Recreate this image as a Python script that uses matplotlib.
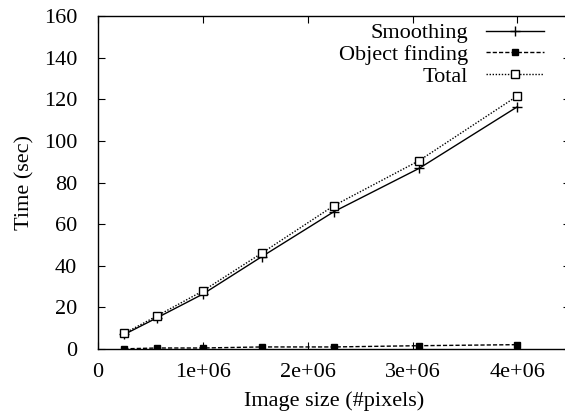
import matplotlib
matplotlib.use("Agg")
import matplotlib.pyplot as plt
from matplotlib.ticker import FuncFormatter

# image sizes (number of pixels)
pixels = [250000, 562500, 1000000, 1562500, 2250000, 3062500, 4000000]

# timings in seconds
smoothing = [7.0, 15.0, 26.4, 44.4, 66.0, 86.8, 116.4]
object_finding = [0.1, 0.5, 0.5, 1.0, 1.0, 1.6, 2.1]
total = [7.5, 15.9, 27.9, 46.1, 68.9, 90.5, 121.6]

xticks = [0, 1e6, 2e6, 3e6, 4e6]
yticks = [0, 20, 40, 60, 80, 100, 120, 140, 160]

plt.rcParams['font.family'] = ['Liberation Serif', 'DejaVu Serif']
plt.rcParams['font.size'] = 16

fig = plt.figure(figsize=(5.65, 4.18), dpi=100)
ax = fig.add_axes([0.1735, 0.165, 0.835, 0.7967])

ax.plot(pixels, smoothing, color='black', lw=1.0, ls='-', marker='+',
        ms=7, mew=1.0, label='Smoothing')
ax.plot(pixels, object_finding, color='black', lw=1.0, ls=(0, (3, 1.5)),
        marker='s', ms=5, mfc='black', mec='black', label='Object finding')
ax.plot(pixels, total, color='black', lw=1.0, ls=(0, (1, 1.2)),
        marker='s', ms=5.5, mfc='white', mec='black', mew=1.0, label='Total')

ax.set_xlim(0, 4.5e6)
ax.set_ylim(0, 160)
ax.set_xticks(xticks)
ax.set_yticks(yticks)

def fmt(v, pos):
    if v == 0:
        return '0'
    return '%de+06' % round(v / 1e6)

ax.xaxis.set_major_formatter(FuncFormatter(fmt))
ax.tick_params(direction='in', length=5, width=0.8, top=True, right=True,
               labelsize=16)
ax.tick_params(axis='x', pad=10)
ax.tick_params(axis='y', pad=15)
for s in ax.spines.values():
    s.set_linewidth(1.0)

ax.set_xlabel('Image size (#pixels)', fontsize=16, labelpad=7)
ax.set_ylabel('Time (sec)', fontsize=16, labelpad=7)

ax.legend(loc='upper right', bbox_to_anchor=(0.964, 1.006), frameon=False,
          markerfirst=False, handlelength=2.6, handletextpad=0.8,
          labelspacing=0.05, borderaxespad=0.0, fontsize=16)

fig.savefig('out.png', dpi=100)
